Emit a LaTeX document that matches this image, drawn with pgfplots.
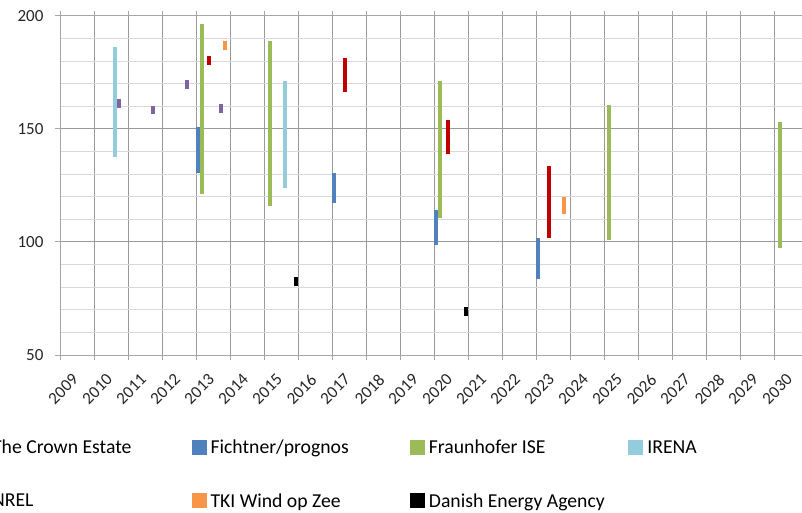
\documentclass[border=0pt]{standalone}
\usepackage{fontspec}
\setmainfont{Carlito}
\usepackage{pgfplots}
\pgfplotsset{compat=1.18}
\definecolor{cCrown}{HTML}{8064A2}
\definecolor{cFicht}{HTML}{4F81BD}
\definecolor{cFraun}{HTML}{9BBB59}
\definecolor{cIrena}{HTML}{93CDDD}
\definecolor{cNrel}{HTML}{C00000}
\definecolor{cTki}{HTML}{F79646}
\definecolor{cDea}{HTML}{000000}
\definecolor{gridmaj}{HTML}{999999}
\definecolor{gridmin}{HTML}{D9D9D9}
\definecolor{gridv}{HTML}{A6A6A6}
\begin{document}
\begin{tikzpicture}
\useasboundingbox (0pt,0pt) rectangle (802pt,513pt);
\clip (0pt,0pt) rectangle (802pt,513pt);
\begin{axis}[
  at={(60pt,158pt)}, anchor=south west,
  scale only axis, width=748pt, height=339.3pt,
  xmin=2008.5, xmax=2030.5, ymin=50, ymax=200,
  unbounded coords=jump,
  axis line style={gridv},
  tick style={gridv, line width=0.8pt},
  tick align=outside, major tick length=5pt,
  ytick={50,100,150,200},
  minor ytick={60,70,80,90,110,120,130,140,160,170,180,190},
  ymajorgrids=true, yminorgrids=true,
  major grid style={gridmaj, line width=0.8pt},
  minor grid style={gridmin, line width=0.8pt},
  minor tick length=0pt,
  xtick={2008.5,2009.5,...,2030.5},
  xticklabels={},
  xmajorgrids=true,
  extra x ticks={2009,2010,2011,2012,2013,2014,2015,2016,2017,2018,2019,2020,2021,2022,2023,2024,2025,2026,2027,2028,2029,2030},
  extra x tick labels={2009,2010,2011,2012,2013,2014,2015,2016,2017,2018,2019,2020,2021,2022,2023,2024,2025,2026,2027,2028,2029,2030},
  extra x tick style={grid=none, major tick length=0pt,
     xticklabel style={xshift=-5.5pt, yshift=-17pt, rotate=45, anchor=north east, inner sep=0.5pt}},
  /pgf/number format/assume math mode=true,
  /pgf/number format/1000 sep={},
  tick label style={font=\fontsize{17}{20}\selectfont, text=black!85},
  yticklabel style={xshift=-8pt},
  legend columns=4,
  legend cell align=left,
  legend image code/.code={\fill[#1] (0pt,-5.5pt) rectangle (11pt,5.5pt);},
  legend style={draw=none, fill=none, inner sep=0pt,
     at={(-0.1164,-0.2505)}, anchor=north west,
     font=\fontsize{19.7}{22}\selectfont,
     nodes={inner sep=0pt},
     row sep=38pt,
     /tikz/every odd column/.style={column sep=4pt},
  },
]
\addplot[color=cCrown, line width=4pt] coordinates {
 (2010.24,159.1) (2010.24,163.1) (2010.24,nan)
 (2011.23,156.5) (2011.23,160.2) (2011.23,nan)
 (2012.23,167.8) (2012.23,171.6) (2012.23,nan)
 (2013.23,157.2) (2013.23,161.0)};
\addlegendentry{\makebox[199.4pt][l]{The Crown Estate}}
\addplot[color=cFicht, line width=4pt] coordinates {
 (2012.56,130.5) (2012.56,150.8) (2012.56,nan)
 (2016.57,117.4) (2016.57,130.3) (2016.57,nan)
 (2019.56,98.8) (2019.56,114.3) (2019.56,nan)
 (2022.56,83.8) (2022.56,101.9)};
\addlegendentry{\makebox[199.4pt][l]{Fichtner/prognos}}
\addplot[color=cFraun, line width=4pt] coordinates {
 (2012.67,121.0) (2012.67,196.2) (2012.67,nan)
 (2014.68,115.7) (2014.68,189.0) (2014.68,nan)
 (2019.68,110.7) (2019.68,171.0) (2019.68,nan)
 (2024.66,100.9) (2024.66,160.6) (2024.66,nan)
 (2029.67,97.5) (2029.67,152.8)};
\addlegendentry{\makebox[199.4pt][l]{Fraunhofer ISE}}
\addplot[color=cIrena, line width=4pt] coordinates {
 (2010.13,137.5) (2010.13,186.3) (2010.13,nan)
 (2015.11,123.7) (2015.11,171.3)};
\addlegendentry{\makebox[199.4pt][l]{IRENA}}
\addplot[color=cNrel, line width=4pt] coordinates {
 (2012.89,178.4) (2012.89,182.4) (2012.89,nan)
 (2016.89,166.2) (2016.89,181.2) (2016.89,nan)
 (2019.90,138.7) (2019.90,154.0) (2019.90,nan)
 (2022.89,101.9) (2022.89,133.7)};
\addlegendentry{\makebox[199.4pt][l]{NREL}}
\addplot[color=cTki, line width=4pt] coordinates {
 (2013.34,184.7) (2013.34,188.7) (2013.34,nan)
 (2023.33,112.2) (2023.33,119.7)};
\addlegendentry{\makebox[199.4pt][l]{TKI Wind op Zee}}
\addplot[color=cDea, line width=4pt] coordinates {
 (2015.45,80.3) (2015.45,84.3) (2015.45,nan)
 (2020.45,67.4) (2020.45,71.4)};
\addlegendentry{\makebox[199.4pt][l]{Danish Energy Agency}}
\end{axis}
\end{tikzpicture}
\end{document}
